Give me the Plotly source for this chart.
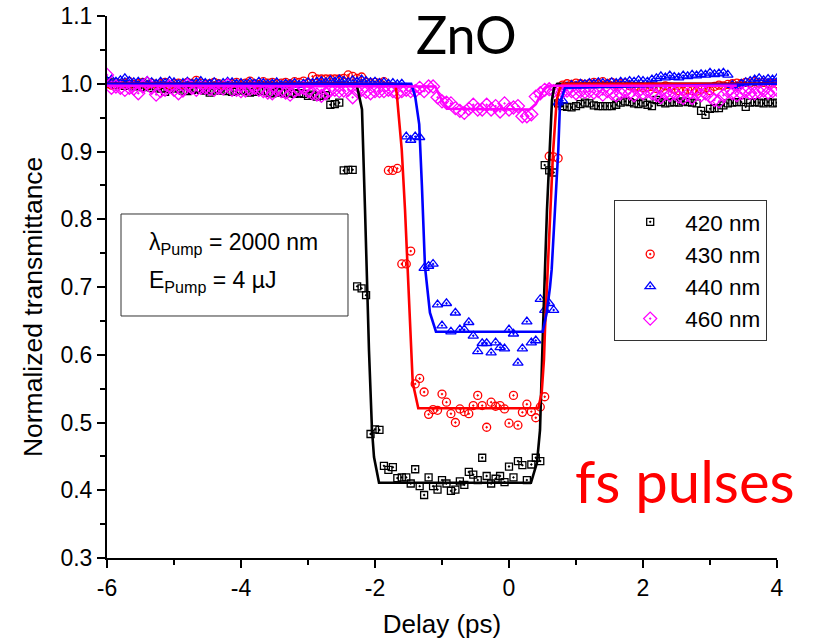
import numpy as np
import plotly.graph_objects as go

# Delay stage positions (ps): 151 steps of 1/15 ps from -6 to 4
delay = np.round(np.arange(151) / 15.0 - 6.0, 4)

# Normalized transmittance, probe at 420 nm
t_420 = [
    1.004, 1.002, 0.998, 1.000, 0.997, 0.999, 0.996, 0.998, 0.995, 0.997,
    0.994, 0.996, 0.993, 0.988, 0.992, 0.995, 0.993, 0.990, 0.989, 0.991,
    0.993, 0.991, 0.990, 0.987, 0.990, 0.992, 0.990, 0.989, 0.988, 0.990,
    0.991, 0.989, 0.987, 0.988, 0.990, 0.989, 0.987, 0.986, 0.988, 0.987,
    0.986, 0.987, 0.985, 0.986, 0.985, 0.982, 0.984, 0.981, 0.982, 0.983,
    0.969, 0.970, 0.972, 0.872, 0.873, 0.873, 0.701, 0.698, 0.688, 0.483,
    0.490, 0.489, 0.436, 0.430, 0.434, 0.418, 0.419, 0.419, 0.410, 0.431,
    0.406, 0.393, 0.419, 0.406, 0.401, 0.415, 0.410, 0.399, 0.401, 0.413,
    0.408, 0.427, 0.423, 0.415, 0.448, 0.421, 0.410, 0.417, 0.421, 0.412,
    0.435, 0.419, 0.443, 0.437, 0.415, 0.438, 0.448, 0.443, 0.880, 0.872,
    0.869, 0.971, 0.967, 0.966, 0.965, 0.967, 0.970, 0.972, 0.971, 0.968,
    0.967, 0.967, 0.967, 0.967, 0.969, 0.972, 0.974, 0.973, 0.971, 0.970,
    0.972, 0.969, 0.967, 0.976, 0.973, 0.971, 0.972, 0.973, 0.972, 0.974,
    0.973, 0.972, 0.971, 0.960, 0.954, 0.963, 0.964, 0.964, 0.968, 0.971,
    0.972, 0.973, 0.973, 0.966, 0.972, 0.973, 0.972, 0.971, 0.973, 0.971,
    0.972,
]

# Probe at 430 nm
t_430 = [
    1.000, 0.998, 1.002, 0.999, 1.001, 1.003, 0.999, 1.000, 1.002, 0.998,
    1.001, 0.999, 1.000, 1.002, 0.998, 1.000, 1.001, 0.999, 1.002, 1.000,
    1.005, 1.001, 0.999, 1.000, 1.002, 1.000, 0.998, 1.001, 1.000, 1.002,
    0.999, 1.001, 1.004, 1.000, 0.999, 1.003, 1.001, 1.002, 1.000, 1.001,
    1.002, 1.000, 1.003, 1.002, 1.004, 1.001, 1.011, 1.007, 1.007, 1.007,
    1.007, 1.007, 1.007, 1.008, 1.013, 1.011, 1.008, 1.010, 1.002, 1.001,
    1.002, 1.001, 1.003, 0.872, 0.872, 0.875, 0.734, 0.734, 0.753, 0.557,
    0.565, 0.545, 0.512, 0.519, 0.518, 0.542, 0.530, 0.513, 0.500, 0.520,
    0.516, 0.513, 0.525, 0.540, 0.525, 0.493, 0.530, 0.524, 0.525, 0.520,
    0.499, 0.540, 0.496, 0.515, 0.527, 0.516, 0.507, 0.523, 0.538, 0.893,
    0.892, 0.890, 0.998, 1.000, 0.999, 1.001, 1.000, 0.999, 1.000, 1.002,
    1.000, 1.003, 1.000, 1.002, 0.999, 1.000, 1.001, 0.997, 0.995, 0.996,
    0.994, 0.995, 0.996, 0.993, 0.994, 0.997, 0.995, 0.992, 0.990, 0.989,
    0.991, 0.990, 0.989, 0.992, 0.994, 0.990, 0.996, 0.998, 0.997, 0.999,
    1.000, 1.001, 1.000, 1.002, 1.001, 1.003, 1.001, 1.002, 1.000, 1.001,
    1.000,
]

# Probe at 440 nm
t_440 = [
    1.004, 1.006, 1.003, 1.005, 1.008, 1.004, 1.002, 1.003, 1.001, 1.004,
    1.002, 1.000, 1.003, 1.001, 1.004, 1.002, 0.999, 1.001, 1.003, 1.000,
    1.002, 1.004, 1.001, 1.000, 1.002, 0.999, 1.001, 1.003, 1.002, 1.000,
    1.001, 0.999, 1.002, 1.000, 1.003, 1.001, 0.999, 1.000, 1.002, 0.998,
    1.000, 0.999, 1.001, 0.998, 1.000, 1.002, 1.001, 1.003, 1.004, 1.002,
    1.005, 1.003, 1.006, 1.004, 1.002, 1.005, 1.003, 1.006, 1.004, 1.002,
    1.003, 1.001, 1.002, 1.000, 1.001, 0.999, 1.000, 0.922, 0.917, 0.922,
    0.921, 0.728, 0.731, 0.734, 0.674, 0.643, 0.676, 0.634, 0.662, 0.637,
    0.637, 0.648, 0.628, 0.605, 0.617, 0.617, 0.603, 0.618, 0.611, 0.609,
    0.637, 0.631, 0.588, 0.609, 0.649, 0.618, 0.621, 0.682, 0.666, 0.676,
    0.666, 0.972, 0.975, 0.996, 0.998, 0.997, 1.000, 0.999, 1.001, 1.000,
    1.002, 1.001, 1.000, 1.002, 1.001, 1.003, 1.002, 1.004, 1.003, 1.005,
    1.004, 1.003, 1.006, 1.008, 1.011, 1.009, 1.012, 1.010, 1.009, 1.012,
    1.011, 1.013, 1.012, 1.014, 1.013, 1.016, 1.014, 1.015, 1.016, 1.013,
    0.998, 0.996, 1.000, 1.002, 1.004, 1.006, 1.008, 1.005, 1.007, 1.006,
    1.008,
]

# Probe at 460 nm
t_460 = [
    1.013, 0.994, 0.996, 0.994, 0.991, 0.994, 0.993, 0.986, 0.996, 1.001,
    0.994, 0.984, 0.989, 0.991, 0.996, 0.991, 0.986, 0.990, 0.998, 0.994,
    0.991, 0.994, 0.994, 0.992, 0.991, 0.994, 0.993, 0.998, 0.991, 0.991,
    0.989, 0.990, 0.992, 0.994, 0.991, 0.989, 0.987, 0.986, 0.991, 0.989,
    0.987, 0.984, 0.989, 0.992, 0.994, 0.989, 0.986, 0.984, 0.982, 0.986,
    0.990, 0.991, 0.989, 0.990, 0.991, 0.980, 0.989, 0.991, 0.988, 0.986,
    0.989, 0.989, 0.989, 0.991, 0.989, 0.986, 0.989, 0.991, 0.989, 0.989,
    0.994, 0.989, 0.996, 0.996, 0.980, 0.974, 0.972, 0.971, 0.964, 0.960,
    0.957, 0.963, 0.969, 0.962, 0.962, 0.969, 0.962, 0.967, 0.959, 0.971,
    0.962, 0.965, 0.967, 0.952, 0.952, 0.955, 0.981, 0.986, 0.991, 0.992,
    0.989, 0.991, 0.988, 0.990, 0.989, 0.986, 0.989, 0.988, 0.989, 0.987,
    0.989, 0.984, 0.989, 0.986, 0.983, 0.986, 0.989, 0.986, 0.983, 0.989,
    0.986, 0.989, 0.986, 0.983, 0.980, 0.986, 0.983, 0.986, 0.981, 0.979,
    0.984, 0.979, 0.986, 0.983, 0.986, 0.981, 0.976, 0.974, 0.983, 0.989,
    0.986, 0.983, 0.986, 0.989, 0.986, 0.986, 0.988, 0.990, 0.987, 0.989,
    0.991,
]

# Fitted curves (delay, transmittance) for each probe wavelength
fit_420_x = [-6.0, -2.28, -2.254, -2.194, -2.149, -2.09, -2.045, -2.015, -1.94,
             0.328, 0.418, 0.463, 0.507, 0.567, 0.642, 0.672, 0.72, 4.0]
fit_420_y = [1.0, 1.0, 0.99, 0.962, 0.814, 0.607, 0.489, 0.449, 0.411,
             0.411, 0.441, 0.489, 0.637, 0.814, 0.976, 0.994, 1.0, 1.0]

fit_430_x = [-6.0, -1.70, -1.676, -1.627, -1.601, -1.552, -1.452, -1.437, -1.354,
             0.437, 0.488, 0.522, 0.537, 0.60, 0.657, 0.712, 0.761, 0.80, 4.0]
fit_430_y = [1.0, 1.0, 0.986, 0.937, 0.903, 0.814, 0.607, 0.559, 0.521,
             0.521, 0.544, 0.593, 0.637, 0.78, 0.898, 0.976, 0.994, 1.0, 1.0]

fit_440_x = [-6.0, -1.46, -1.40, -1.34, -1.30, -1.254, -1.18, -1.09,
             0.503, 0.563, 0.612, 0.637, 0.736, 0.761, 0.836, 4.0]
fit_440_y = [1.0, 1.0, 0.981, 0.94, 0.85, 0.73, 0.662, 0.634,
             0.634, 0.662, 0.70, 0.726, 0.903, 0.971, 0.994, 1.0]

fit_460_x = [-6.0, -1.10, -1.00, -0.92, 0.31, 0.40, 0.46, 0.52, 0.59, 3.40]
fit_460_y = [0.997, 0.996, 0.975, 0.963, 0.962, 0.970, 0.981, 0.991, 0.997, 0.997]

# Axis ticks
x_tick_vals = [-6, -4, -2, 0, 2, 4]
x_tick_text = ["-6", "-4", "-2", "0", "2", "4"]

labels = ["420 nm", "430 nm", "440 nm", "460 nm"]
colors = ["#000000", "#FF0000", "#0000FF", "#FF00FF"]
symbols = ["square-open-dot", "circle-open-dot", "triangle-up-open-dot", "diamond-open-dot"]
sizes = [7, 8, 9, 10]
measured = [t_420, t_430, t_440, t_460]
fits = [(fit_420_x, fit_420_y), (fit_430_x, fit_430_y),
        (fit_440_x, fit_440_y), (fit_460_x, fit_460_y)]

fig = go.Figure()

for name, y, c, sym, sz in zip(labels, measured, colors, symbols, sizes):
    fig.add_trace(go.Scatter(
        x=delay, y=y, mode="markers", name=name,
        marker=dict(symbol=sym, size=sz, color=c, line=dict(width=1.3, color=c)),
    ))

for (fx, fy), c in zip(fits, colors):
    fig.add_trace(go.Scatter(
        x=fx, y=fy, mode="lines", showlegend=False, hoverinfo="skip",
        line=dict(color=c, width=2.6),
    ))

axis_font = "Liberation Sans, Arial, sans-serif"

fig.update_layout(
    width=815, height=644,
    margin=dict(l=107, r=38, t=16, b=86),
    paper_bgcolor="white", plot_bgcolor="white",
    font=dict(family=axis_font, color="black"),
    legend=dict(
        x=0.757, y=0.661, xanchor="left", yanchor="top",
        bordercolor="#333333", borderwidth=1, bgcolor="white",
        font=dict(size=22.5, family=axis_font), itemwidth=60,
        tracegroupgap=0,
    ),
    shapes=[dict(
        type="rect", xref="paper", yref="paper",
        x0=0.0209, x1=0.3597, y0=0.4465, y1=0.6347,
        line=dict(color="#333333", width=1), fillcolor="rgba(0,0,0,0)",
    )],
    annotations=[
        dict(text="λ<sub>Pump</sub> = 2000 nm", xref="paper", yref="paper",
             x=0.060, y=0.580, xanchor="left", yanchor="middle", showarrow=False,
             font=dict(size=23, family=axis_font)),
        dict(text="E<sub>Pump</sub> = 4 µJ", xref="paper", yref="paper",
             x=0.060, y=0.510, xanchor="left", yanchor="middle", showarrow=False,
             font=dict(size=23, family=axis_font)),
        dict(text="ZnO", xref="paper", yref="paper",
             x=0.537, y=0.9668, xanchor="center", yanchor="middle", showarrow=False,
             font=dict(size=52, family="Lato, sans-serif", color="black")),
        dict(text="fs pulses", xref="paper", yref="paper",
             x=0.862, y=0.143, xanchor="center", yanchor="middle", showarrow=False,
             font=dict(size=58, family="Lato, sans-serif", color="#FF0000")),
        # y-axis title, placed a little below the axis centre
        dict(text="Normalized transmittance", xref="paper", yref="paper",
             x=-0.1104, y=0.463, xanchor="center", yanchor="middle",
             textangle=-90, showarrow=False,
             font=dict(size=26.5, family=axis_font)),
    ],
)

fig.update_xaxes(
    range=[-6, 4], tickvals=x_tick_vals, ticktext=x_tick_text,
    showline=True, linecolor="black", linewidth=2, mirror=False,
    ticks="outside", ticklen=8, tickwidth=2, tickcolor="black",
    minor=dict(ticks="outside", ticklen=5, tickwidth=2, dtick=1, tickcolor="black"),
    showgrid=False, zeroline=False, automargin=False,
    tickfont=dict(size=23),
    title=dict(text="Delay (ps)", font=dict(size=26), standoff=15),
)
fig.update_yaxes(
    range=[0.3, 1.1], tick0=0.3, dtick=0.1, tickformat=".1f",
    showline=True, linecolor="black", linewidth=2, mirror=False,
    ticks="outside", ticklen=8, tickwidth=2, tickcolor="black",
    minor=dict(ticks="outside", ticklen=5, tickwidth=2, dtick=0.05, tickcolor="black"),
    showgrid=False, zeroline=False, automargin=False,
    tickfont=dict(size=23),
)

fig.write_html("out.html")
